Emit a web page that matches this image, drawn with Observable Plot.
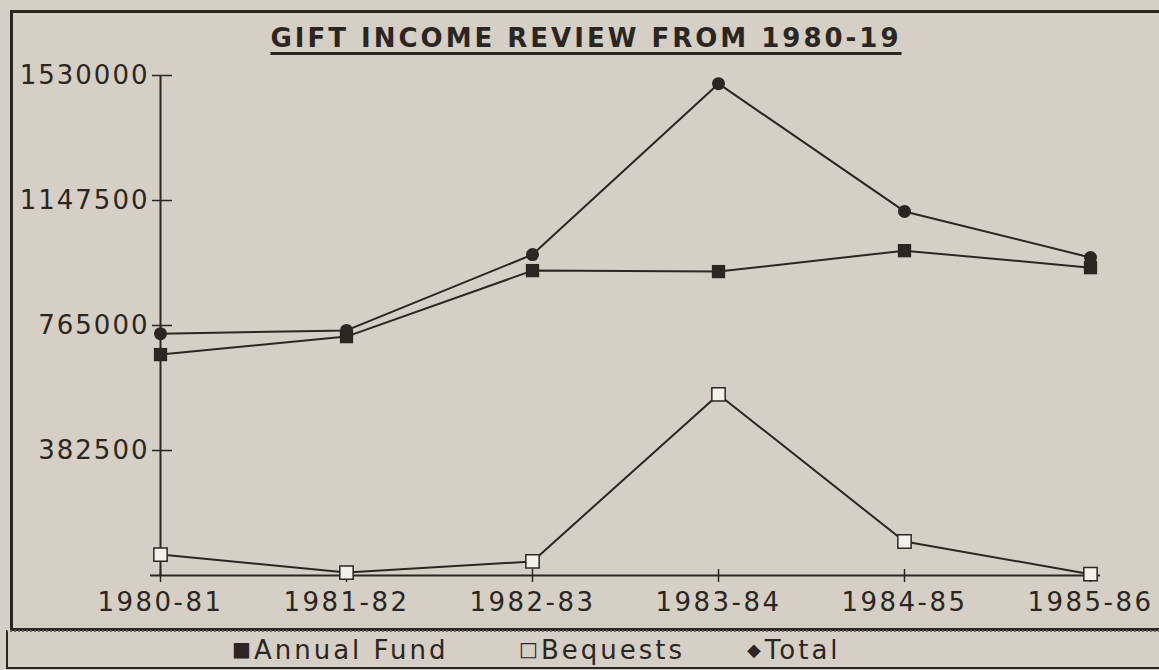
<!DOCTYPE html>
<html>
<head>
<meta charset="utf-8">
<script src="https://cdn.jsdelivr.net/npm/d3@7"></script>
<script src="https://cdn.jsdelivr.net/npm/@observablehq/plot@0.6"></script>
<style>
  html, body { margin: 0; padding: 0; width: 1159px; height: 670px; overflow: hidden; background: #d5cfc5; }
  #wrap { position: relative; width: 1159px; height: 670px; font-family: "DejaVu Sans", sans-serif; color: #2b2622; }
  #frame { position: absolute; left: 10px; top: 10px; width: 1200px; height: 615px; border-left: 3px solid #2b2622; border-top: 3px solid #2b2622; border-bottom: 3px solid #2b2622; }
  #legendbox { position: absolute; left: 6px; top: 630px; width: 1200px; height: 35px; border-left: 2px solid #2b2622; border-bottom: 2px solid #2b2622; border-top: 2px dotted #6b655e; }
  #title { position: absolute; top: 23px; left: 0; width: 1172px; text-align: center; font-family: "DejaVu Sans", sans-serif; font-weight: bold; font-size: 26px; letter-spacing: 3px; text-decoration: underline; text-decoration-thickness: 3px; text-underline-offset: 5px; }
  #chart { position: absolute; left: 0; top: 0; }
  #chart svg g[aria-label="y-axis tick label"] text { letter-spacing: 2px; }
  #chart svg g[aria-label="x-axis tick label"] text { letter-spacing: 2.5px; }
  .leg { position: absolute; top: 635px; font-size: 26px; letter-spacing: 3px; white-space: nowrap; }
  .sym { display: inline-block; letter-spacing: 0; }
</style>
</head>
<body>
<div id="wrap">
  <div id="frame"></div>
  <div id="legendbox"></div>
  <div id="chart"></div>
  <div id="title"></div>
  <div id="legend"></div>
</div>
<script>
const titleText = "GIFT INCOME REVIEW FROM 1980-19";
const years = ["1980-81", "1981-82", "1982-83", "1983-84", "1984-85", "1985-86"];
const annualFund = [676000, 731000, 933000, 930000, 994000, 942000];
const bequests = [64000, 9000, 43000, 554000, 104000, 4000];
const total = [740000, 750000, 982000, 1505000, 1114000, 973000];
const yTicks = [382500, 765000, 1147500, 1530000];
const seriesNames = ["Annual Fund", "Bequests", "Total"];
const legendSymbols = ["■", "□", "◆"];

document.getElementById("title").textContent = titleText;

const ink = "#2b2622";
const rows = (vals) => years.map((y, i) => ({year: y, value: vals[i]}));
const af = rows(annualFund), bq = rows(bequests), tt = rows(total);

const chart = Plot.plot({
  width: 1159,
  height: 628,
  marginTop: 75,
  marginBottom: 53,
  marginLeft: 160,
  marginRight: 69,
  style: {background: "transparent", fontFamily: "DejaVu Sans, sans-serif", fontSize: "26px", color: ink, overflow: "visible"},
  x: {type: "point", domain: years, padding: 0},
  y: {domain: [0, 1530000]},
  marks: [
    Plot.ruleY([0], {stroke: ink, strokeWidth: 2, insetLeft: -10, insetRight: -10}),
    Plot.ruleX([years[0]], {stroke: ink, strokeWidth: 2}),
    Plot.axisY({ticks: yTicks, tickFormat: d => String(d), tickSize: 8, tickPadding: 3, label: null, stroke: ink, strokeWidth: 1.5, fill: ink}),
    Plot.axisY({ticks: yTicks, tickSize: -12, text: null, label: null, stroke: ink, strokeWidth: 1.5}),
    Plot.axisX({tickSize: 7, tickPadding: 10, label: null, stroke: ink, strokeWidth: 1.5, fill: ink}),
    Plot.axisX({tickSize: -6, text: null, label: null, stroke: ink, strokeWidth: 1.5}),
    Plot.line(tt, {x: "year", y: "value", stroke: ink, strokeWidth: 2}),
    Plot.line(af, {x: "year", y: "value", stroke: ink, strokeWidth: 2}),
    Plot.line(bq, {x: "year", y: "value", stroke: ink, strokeWidth: 2}),
    Plot.dot(tt, {x: "year", y: "value", symbol: "circle", r: 6.5, fill: ink, stroke: "none"}),
    Plot.dot(af, {x: "year", y: "value", symbol: "square", r: 7.5, fill: ink, stroke: "none"}),
    Plot.dot(bq, {x: "year", y: "value", symbol: "square", r: 7.5, fill: "#f4f1ea", stroke: ink, strokeWidth: 1.5})
  ]
});
document.getElementById("chart").appendChild(chart);

const legend = document.getElementById("legend");
const legendLeft = [232, 519, 747];
seriesNames.forEach((name, i) => {
  const el = document.createElement("div");
  el.className = "leg";
  el.style.left = legendLeft[i] + "px";
  const s = document.createElement("span");
  s.className = "sym";
  s.textContent = legendSymbols[i];
  s.style.fontSize = i === 2 ? "18px" : "20px";
  s.style.marginRight = i === 2 ? "4px" : "3px";
  s.style.verticalAlign = "3px";
  el.appendChild(s);
  el.appendChild(document.createTextNode(name));
  legend.appendChild(el);
});
</script>
</body>
</html>
